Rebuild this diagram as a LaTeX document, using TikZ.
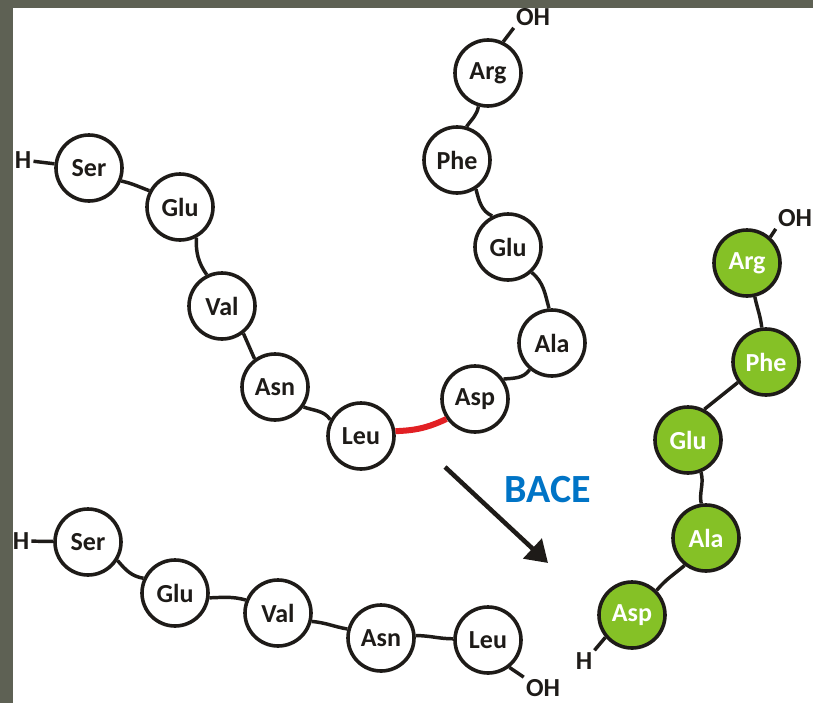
\documentclass[tikz,border=0pt]{standalone}
\usepackage{fontspec}
\setmainfont{Carlito}
\usetikzlibrary{arrows.meta}
\definecolor{ink}{RGB}{30,27,24}
\definecolor{aagreen}{RGB}{133,193,38}
\definecolor{bacblue}{RGB}{0,116,198}
\definecolor{cutred}{RGB}{226,32,36}
\definecolor{frame}{RGB}{94,97,84}
\begin{document}
\begin{tikzpicture}[x=0.75pt,y=0.75pt,
  aa/.style={circle,draw=ink,line width=2.7pt,fill=white,minimum size=49.5pt,inner sep=0pt,
    font=\fontsize{19.5}{22}\selectfont\bfseries,text=ink},
  aag/.style={aa,fill=aagreen,text=white},
  term/.style={inner sep=1.5pt,font=\fontsize{19.5}{22}\selectfont\bfseries,text=ink},
  bond/.style={draw=ink,line width=2.6pt},
  cut/.style={draw=cutred,line width=4.5pt}]
\clip (0,0) rectangle (813,-703);
\fill[frame] (0,0) rectangle (813,-703);
\fill[white] (13,-8) rectangle (813,-703);

% ---------- top chain (substrate) ----------
\node[term] (h1) at (23,-160) {H};
\node[aa] (s1) at (89,-168) {Ser};
\node[aa] (e1) at (180,-207) {Glu};
\node[aa] (v1) at (222,-306) {Val};
\node[aa] (n1) at (275,-387) {Asn};
\node[aa] (l1) at (361,-436) {Leu};
\node[aa] (d1) at (475,-399) {Asp};
\node[aa] (a1) at (552,-343) {Ala};
\node[aa] (e2) at (508,-247) {Glu};
\node[aa] (f1) at (457,-160) {Phe};
\node[aa] (r1) at (488,-73) {Arg};
\node[term] (oh1) at (533,-17) {OH};

\draw[bond] (h1) -- (s1);
\draw[bond] (s1.-22) to[out=-12,in=160] (e1.152);
\draw[bond] (e1.-62) to[out=-92,in=125] (v1.116);
\draw[bond] (v1.-52) -- (n1.126);
\draw[bond] (n1.-35) to[out=-20,in=125] (l1.152);
\draw[cut] (l1.8) to[out=2,in=205] (d1.-145);
\draw[bond] (d1.35) to[out=5,in=-125] (a1.-130);
\draw[bond] (a1.95) to[out=105,in=-40] (e2.-47);
\draw[bond] (e2.117) to[out=155,in=-75] (f1.-57);
\draw[bond] (f1.74) to[out=55,in=-100] (r1.-106);
\draw[bond] (r1.64) -- (oh1.south west);

% ---------- bottom chain (N-terminal fragment) ----------
\node[term] (h2) at (21,-541) {H};
\node[aa] (s2) at (88,-542) {Ser};
\node[aa] (e3) at (175,-593) {Glu};
\node[aa] (v2) at (278,-613) {Val};
\node[aa] (n2) at (381,-638) {Asn};
\node[aa] (l2) at (488,-640) {Leu};
\node[term] (oh2) at (543,-688) {OH};

\draw[bond] (h2) -- (s2);
\draw[bond] (s2.-32) to[out=-50,in=170] (e3.155);
\draw[bond] (e3.-8) to[out=2,in=165] (v2.158);
\draw[bond] (v2.-14) to[out=-5,in=170] (n2.165);
\draw[bond] (n2.4) to[out=0,in=180] (l2.178);
\draw[bond] (l2.-52) -- (oh2.north west);

% ---------- green chain (C-terminal fragment) ----------
\node[aag] (r3) at (747,-263) {Arg};
\node[aag] (f3) at (766,-362) {Phe};
\node[aag] (e4) at (688,-440) {Glu};
\node[aag] (a3) at (706,-538) {Ala};
\node[aag] (d3) at (632,-615) {Asp};
\node[term] (oh3) at (795,-218) {OH};
\node[term] (h3) at (584,-661) {H};

\draw[bond] (r3.48) -- (oh3.south west);
\draw[bond] (r3.-77) to[out=-78,in=97] (f3.97);
\draw[bond] (f3.-144) -- (e4.62);
\draw[bond] (e4.-68) to[out=-75,in=100] (a3.98);
\draw[bond] (a3.-128) to[out=-140,in=50] (d3.45);
\draw[bond] (d3.-140) -- (h3.north east);

% ---------- enzyme arrow ----------
\coordinate (ar0) at (445,-467);
\coordinate (ar1) at (548,-563);
\draw[draw=ink,line width=3.4pt,-{Triangle[length=16pt,width=20pt]}] (ar0) -- (ar1);
\node[font=\fontsize{30}{34}\selectfont\bfseries,text=bacblue] (bace) at (548,-490) {BACE};
\end{tikzpicture}
\end{document}
